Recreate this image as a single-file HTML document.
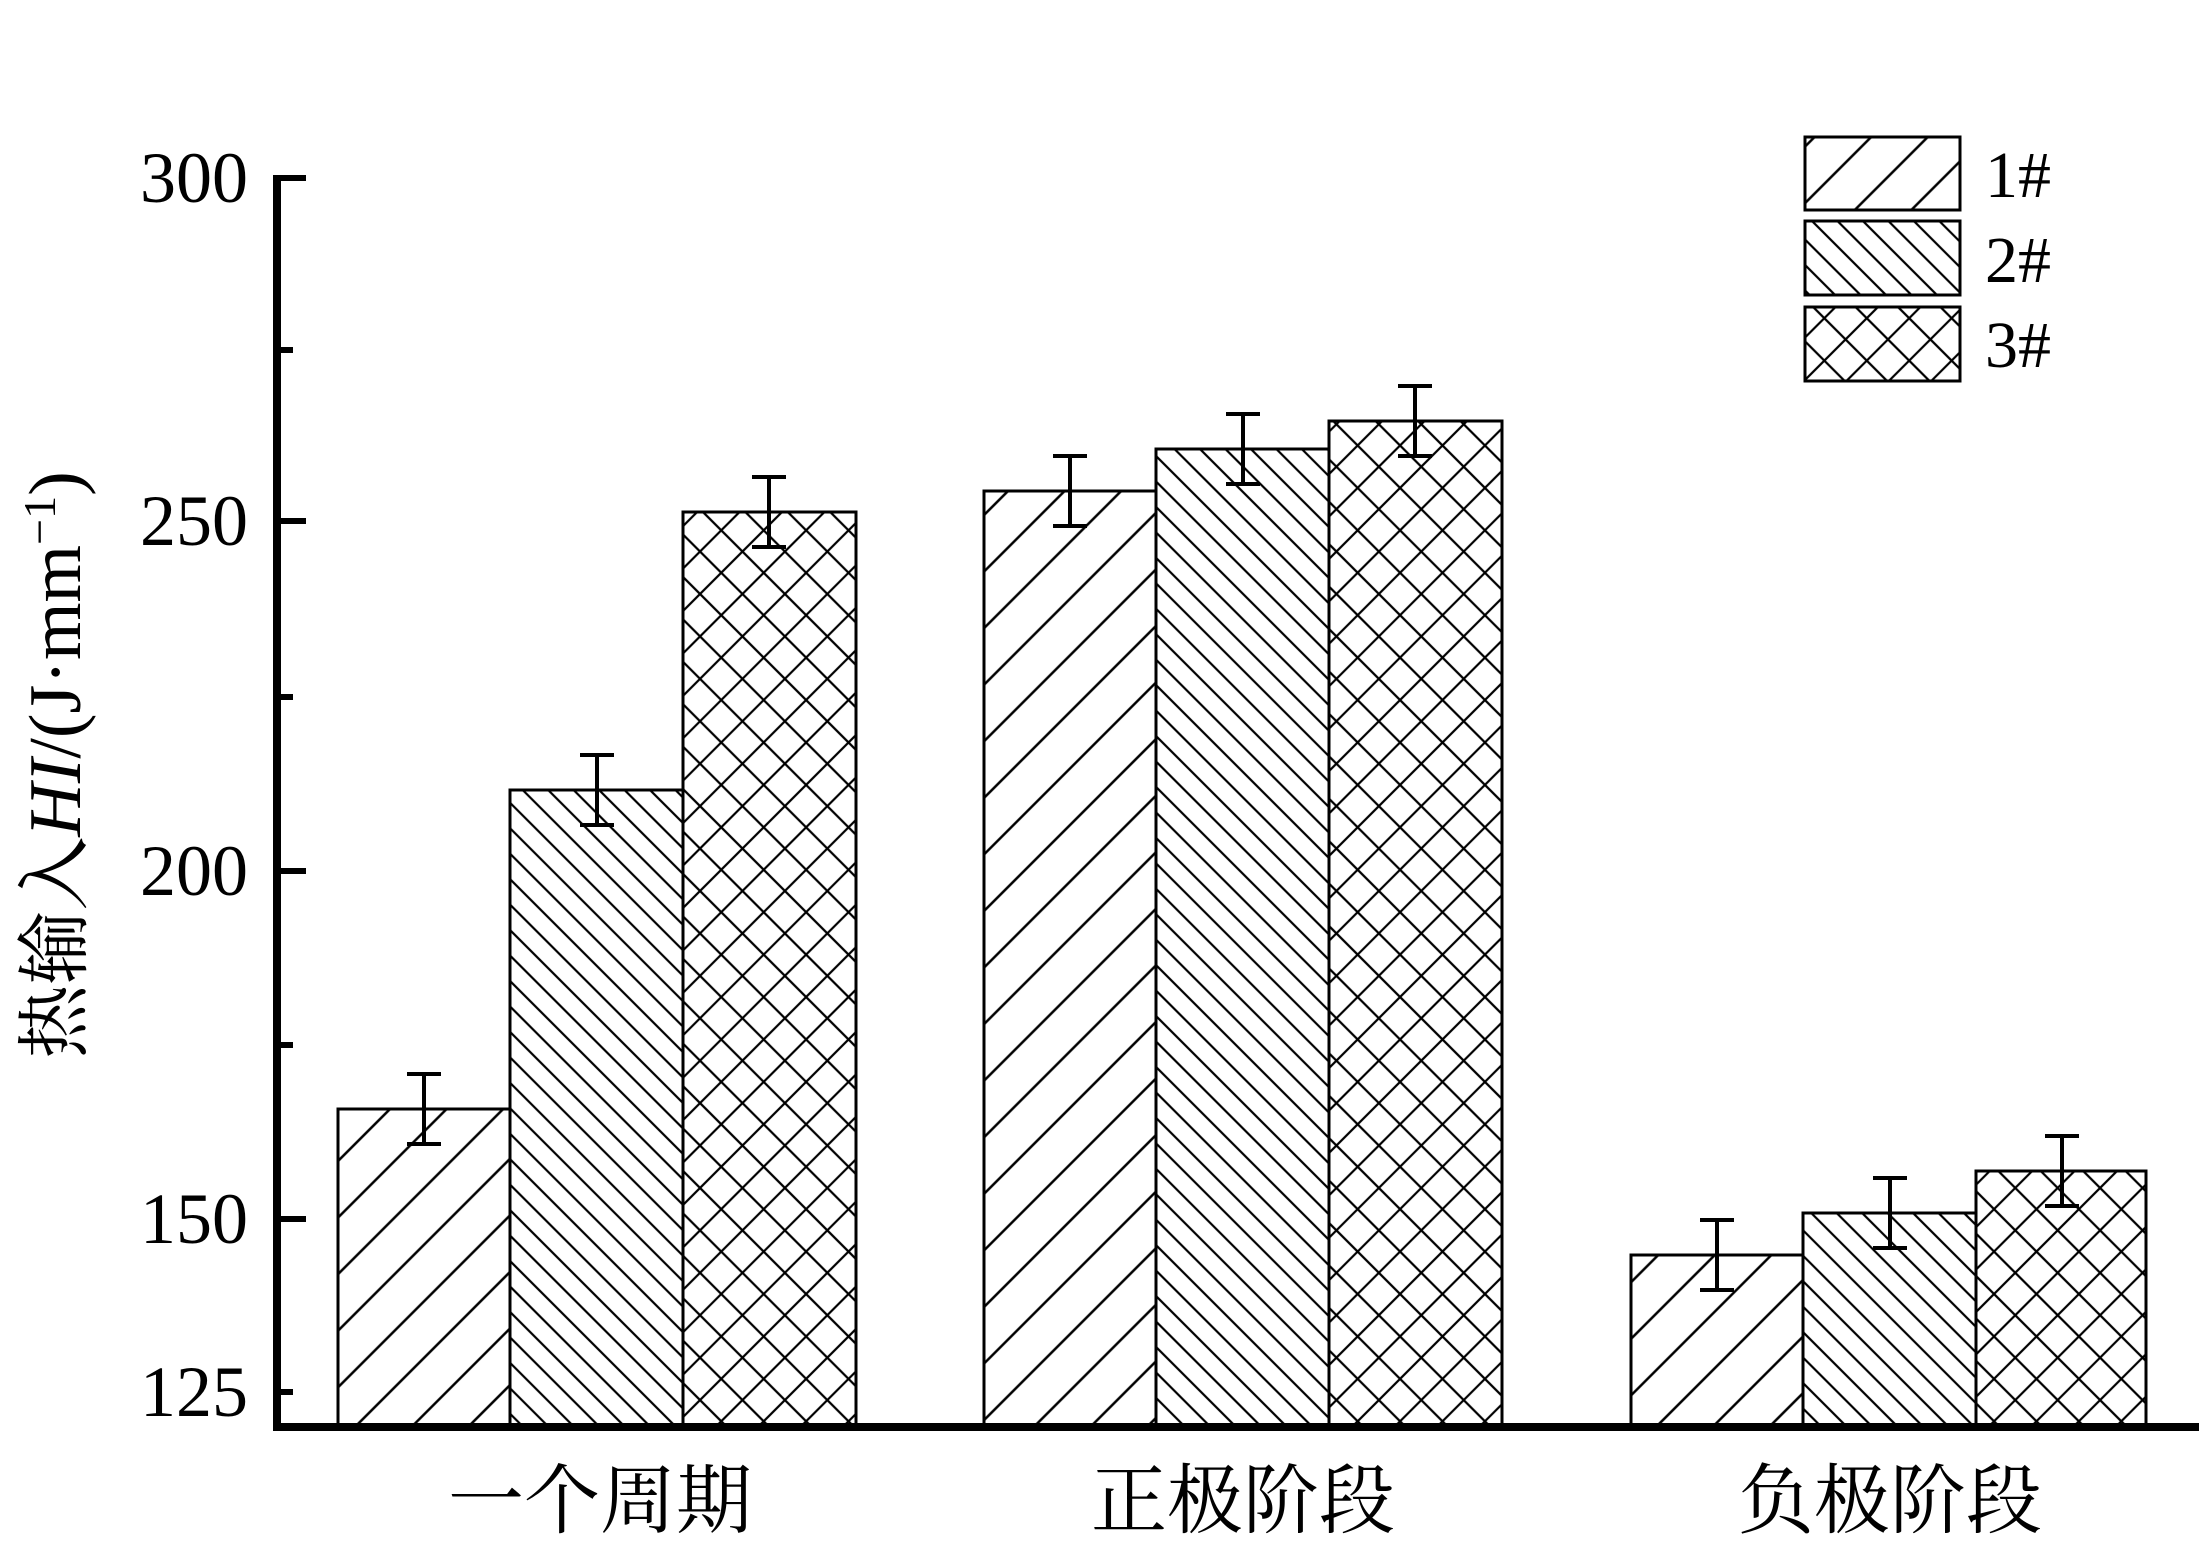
<!DOCTYPE html>
<html><head><meta charset="utf-8"><style>body{margin:0;background:#fff}</style></head><body>
<svg width="2203" height="1546" viewBox="0 0 2203 1546" xmlns="http://www.w3.org/2000/svg">
<defs>
<pattern id="p1" patternUnits="userSpaceOnUse" width="40" height="40" patternTransform="rotate(45)"><line x1="20" y1="0" x2="20" y2="40" stroke="#000" stroke-width="2.5"/></pattern>
<pattern id="p2" patternUnits="userSpaceOnUse" width="18" height="18" patternTransform="rotate(-45)"><line x1="9" y1="0" x2="9" y2="18" stroke="#000" stroke-width="2.2"/></pattern>
<pattern id="p3" patternUnits="userSpaceOnUse" width="30" height="30" patternTransform="rotate(45)"><line x1="15" y1="0" x2="15" y2="30" stroke="#000" stroke-width="2.2"/><line x1="0" y1="15" x2="30" y2="15" stroke="#000" stroke-width="2.2"/></pattern>
</defs>
<g stroke="#000" stroke-width="3">
<rect x="338" y="1109" width="172" height="318" fill="url(#p1)"/>
<rect x="510" y="790" width="173" height="637" fill="url(#p2)"/>
<rect x="683" y="512" width="173" height="915" fill="url(#p3)"/>
<rect x="984" y="491" width="172" height="936" fill="url(#p1)"/>
<rect x="1156" y="449" width="173" height="978" fill="url(#p2)"/>
<rect x="1329" y="421" width="173" height="1006" fill="url(#p3)"/>
<rect x="1631" y="1255" width="172" height="172" fill="url(#p1)"/>
<rect x="1803" y="1213" width="173" height="214" fill="url(#p2)"/>
<rect x="1976" y="1171" width="170" height="256" fill="url(#p3)"/>
</g>
<g stroke="#000" stroke-width="4">
<path d="M424 1074V1144M407 1074H441M407 1144H441"/>
<path d="M597 755V825M580 755H614M580 825H614"/>
<path d="M769 477V547M752 477H786M752 547H786"/>
<path d="M1070 456V526M1053 456H1087M1053 526H1087"/>
<path d="M1243 414V484M1226 414H1260M1226 484H1260"/>
<path d="M1415 386V456M1398 386H1432M1398 456H1432"/>
<path d="M1717 1220V1290M1700 1220H1734M1700 1290H1734"/>
<path d="M1890 1178V1248M1873 1178H1907M1873 1248H1907"/>
<path d="M2062 1136V1206M2045 1136H2079M2045 1206H2079"/>
</g>
<g stroke="#000">
<line x1="277" y1="175" x2="277" y2="1431" stroke-width="8"/>
<line x1="273" y1="1427" x2="2199" y2="1427" stroke-width="8"/>
<g stroke-width="6">
<line x1="277" y1="178" x2="306" y2="178"/><line x1="277" y1="521" x2="306" y2="521"/><line x1="277" y1="871" x2="306" y2="871"/><line x1="277" y1="1219" x2="306" y2="1219"/>
<line x1="277" y1="350" x2="293" y2="350"/><line x1="277" y1="697" x2="293" y2="697"/><line x1="277" y1="1045" x2="293" y2="1045"/><line x1="277" y1="1392" x2="293" y2="1392"/>
</g>
</g>
<g font-family="Liberation Serif, serif" font-size="72" text-anchor="end">
<text x="248" y="202">300</text><text x="248" y="545">250</text><text x="248" y="895">200</text><text x="248" y="1243">150</text><text x="248" y="1416">125</text>
</g>
<g font-family="Liberation Serif, 'Noto Serif CJK SC', serif" font-size="76" text-anchor="middle">
<text x="600" y="1527">一个周期</text><text x="1243" y="1527">正极阶段</text><text x="1890" y="1527">负极阶段</text>
</g>
<text transform="translate(80,765) rotate(-90)" text-anchor="middle" font-family="Liberation Serif, 'Noto Serif CJK SC', serif" font-size="74">热输入<tspan font-style="italic">HI</tspan>/(J·mm<tspan baseline-shift="super" font-size="46">−1</tspan>)</text>
<g stroke="#000" stroke-width="3">
<rect x="1805" y="137" width="155" height="73" fill="url(#p1)"/>
<rect x="1805" y="221" width="155" height="74" fill="url(#p2)"/>
<rect x="1805" y="307" width="155" height="74" fill="url(#p3)"/>
</g>
<g font-family="Liberation Serif, serif" font-size="66">
<text x="1985" y="197">1#</text><text x="1985" y="282">2#</text><text x="1985" y="367">3#</text>
</g>
</svg>
</body></html>
